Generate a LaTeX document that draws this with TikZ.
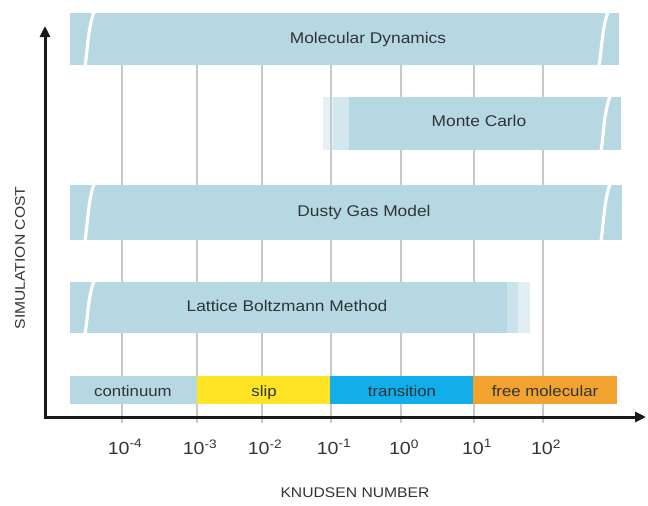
\documentclass[tikz,border=0pt]{standalone}
\usepackage{fontspec}
\setmainfont[FakeStretch=1.12]{Liberation Sans}
\usetikzlibrary{arrows.meta}

\definecolor{barblue}{HTML}{B5D8E3}
\definecolor{slipyellow}{HTML}{FFE426}
\definecolor{transblue}{HTML}{12AEEA}
\definecolor{freeorange}{HTML}{F2A22E}
\definecolor{labeltext}{HTML}{303436}
\definecolor{gridgray}{HTML}{C8C8C8}
\definecolor{axisblack}{HTML}{1A1A1A}

% white "broken bar" stroke across a bar: x, top, bottom
\newcommand\brkmark[3]{%
  \draw[white, line width=3.2pt]
    ({#1+5},{#2-1}) .. controls ({#1-1},{#2+0.3*(#3-#2)}) and ({#1-1},{#2+0.65*(#3-#2)}) .. ({#1-4},{#3+1});}

\tikzset{
  gridline/.style={draw=gridgray, line width=1.4pt},
  barlabel/.style={text=labeltext, font=\fontsize{15.5}{18}\selectfont, inner sep=0pt,
    text height=11.5pt, text depth=3.5pt},
  regimelabel/.style={text=labeltext, font=\fontsize{15}{18}\selectfont, inner sep=0pt,
    text height=11pt, text depth=3.5pt},
  ticklabel/.style={text=labeltext, font=\fontsize{17.5}{20}\selectfont, inner sep=0pt},
  axislabel/.style={text=labeltext, font=\fontsize{14}{16}\selectfont, inner sep=0pt},
  axisline/.style={draw=axisblack, line width=3pt, -{Triangle[length=11pt,width=10pt]}},
}

\begin{document}
\begin{tikzpicture}[x=1pt, y=-1pt]
\useasboundingbox (0,0) rectangle (648,506);

% vertical grid lines and decade labels
\foreach \x/\n/\e in {122/a/-4, 197/b/-3, 262/c/-2, 331/d/-1, 401/e/0, 474/f/1, 543/g/2} {
  \coordinate (gt\n) at (\x,13);
  \coordinate (gb\n) at (\x,423);
  \draw[gridline] (gt\n) -- (gb\n);
  \node[ticklabel] (tick\n) at ({\x+3},447) {10\textsuperscript{\e}};
}

% Molecular Dynamics
\fill[barblue] (70,13) rectangle (619,65);
\brkmark{89}{13}{65}
\brkmark{603}{13}{65}
\node[barlabel] (md) at (368,39) {Molecular Dynamics};

% Monte Carlo
\fill[barblue, fill opacity=0.35] (323,97) rectangle (333,150);
\fill[barblue, fill opacity=0.6] (333,97) rectangle (349,150);
\fill[barblue] (349,97) rectangle (621,150);
\brkmark{605}{97}{150}
\node[barlabel] (mc) at (479,122) {Monte Carlo};

% Dusty Gas Model
\fill[barblue] (70,185) rectangle (622,240);
\brkmark{89}{185}{240}
\brkmark{605}{185}{240}
\node[barlabel] (dgm) at (364,212) {Dusty Gas Model};

% Lattice Boltzmann Method
\fill[barblue] (70,282) rectangle (507,333);
\fill[barblue, fill opacity=0.7] (507,282) rectangle (518,333);
\fill[barblue, fill opacity=0.4] (518,282) rectangle (530,333);
\brkmark{89}{282}{333}
\node[barlabel] (lbm) at (287,307) {Lattice Boltzmann Method};

% flow regimes
\fill[barblue] (70,376) rectangle (197,404);
\fill[slipyellow] (197,376) rectangle (330,404);
\fill[transblue] (330,376) rectangle (473,404);
\fill[freeorange] (473,376) rectangle (617,404);
\node[regimelabel] (cont) at (133,392.5) {continuum};
\node[regimelabel] (slip) at (264,392.5) {slip};
\node[regimelabel] (trans) at (402,392.5) {transition};
\node[regimelabel] (free) at (545,392.5) {free molecular};

% axes
\coordinate (origin) at (45,417);
\coordinate (ytip) at (45,26);
\coordinate (xtip) at (646,417);
\draw[axisline] ([yshift=-1.5pt]origin) -- (ytip);
\draw[axisline] ([xshift=-1.5pt]origin) -- (xtip);

\node[axislabel, rotate=90] (ylab) at (20,258) {SIMULATION COST};
\node[axislabel] (xlab) at (355,493) {KNUDSEN NUMBER};
\end{tikzpicture}
\end{document}
